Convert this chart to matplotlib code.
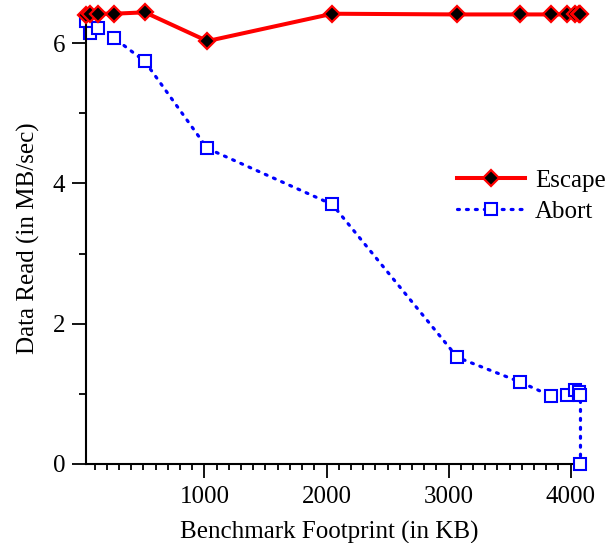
import matplotlib
matplotlib.use("Agg")
import matplotlib.pyplot as plt
from matplotlib.ticker import MultipleLocator

plt.rcParams['font.family'] = ['Liberation Serif', 'DejaVu Serif']

escape_x = [32, 64, 128, 256, 512, 1024, 2048, 3072, 3584, 3840, 3968, 4032, 4064, 4080]
escape_y = [6.40, 6.41, 6.42, 6.42, 6.44, 6.03, 6.42, 6.41, 6.41, 6.41, 6.41, 6.41, 6.41, 6.41]

abort_x = [32, 64, 128, 256, 512, 1024, 2048, 3072, 3584, 3840, 3968, 4032, 4064, 4080, 4080]
abort_y = [6.32, 6.14, 6.21, 6.08, 5.74, 4.50, 3.70, 1.52, 1.17, 0.97, 0.98, 1.06, 1.03, 0.98, 0.0]

x_ticks = [1000, 2000, 3000, 4000]
y_ticks = [0, 2, 4, 6]

fig = plt.figure(figsize=(6.13, 5.43), dpi=100)
ax = fig.add_axes([0.1403, 0.1455, 0.7927, 0.8305])

ax.plot(escape_x, escape_y, color='#ff0000', lw=2.9, marker='D', markersize=8,
        markerfacecolor='black', markeredgecolor='#ff0000', markeredgewidth=1.6,
        clip_on=False, zorder=3, label='Escape')
ax.plot(abort_x, abort_y, color='#0000ff', lw=2.3, linestyle=(0, (0.6, 2.2)),
        dash_capstyle='round', marker='s', markersize=8.5, markerfacecolor='white',
        markeredgecolor='#0000ff', markeredgewidth=1.5, clip_on=False, zorder=2, label='Abort')

ax.set_xlim(30, 4010)
ax.set_ylim(0, 6.43)
ax.set_xticks(x_ticks)
ax.set_yticks(y_ticks)
ax.xaxis.set_minor_locator(MultipleLocator(100))
ax.yaxis.set_minor_locator(MultipleLocator(1))
ax.tick_params(axis='x', which='major', direction='out', length=10, width=1.3, labelsize=18, pad=6)
ax.tick_params(axis='y', which='major', direction='out', length=10, width=1.3, labelsize=18, pad=5)
ax.tick_params(axis='x', which='minor', direction='out', length=4, width=1.3)
ax.tick_params(axis='y', which='minor', direction='out', length=5, width=1.3)
for s in ['top', 'right']:
    ax.spines[s].set_visible(False)
for s in ['left', 'bottom']:
    ax.spines[s].set_linewidth(1.5)

ax.set_xlabel('Benchmark Footprint (in KB)', fontsize=18, labelpad=9)
ax.set_ylabel('Data Read (in MB/sec)', fontsize=18, labelpad=9)

leg = fig.legend(loc='upper left', bbox_to_anchor=(0.746, 0.688), frameon=False,
                 fontsize=18, handlelength=2.7, handletextpad=0.4, labelspacing=0.35,
                 borderpad=0, borderaxespad=0)

fig.savefig('out.png', dpi=100)
